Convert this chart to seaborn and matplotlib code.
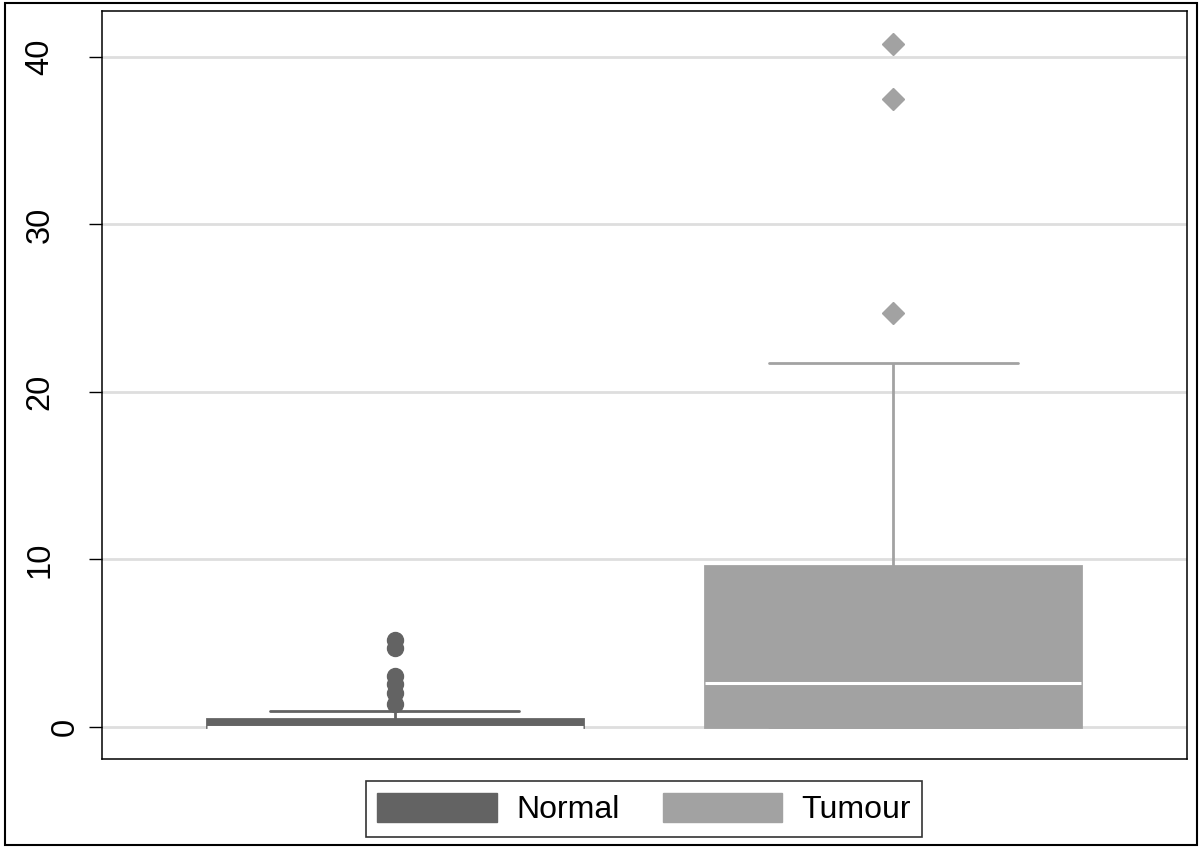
import pandas as pd
import seaborn as sns
import matplotlib.pyplot as plt
from matplotlib.patches import Patch, Rectangle

groups = ["Normal", "Tumour"]
colors = ["#636363", "#a2a2a2"]
markers = ["o", "D"]

normal_values = [
    0, 0, 0, 0, 0, 0, 0, 0, 0, 0, 0, 0, 0, 0, 0, 0, 0, 0, 0, 0, 0,
    0.05, 0.08, 0.12, 0.16, 0.2, 0.26, 0.32, 0.38, 0.44, 0.5,
    0.55, 0.68, 0.82, 0.96,
    1.35, 2.0, 2.55, 3.05, 4.7, 5.2,
]
tumour_values = [
    0, 0, 0, 0, 0, 0, 0, 0, 0, 0, 0,
    0.2, 0.4, 0.7, 1.0, 1.3, 1.6, 1.9, 2.2, 2.4, 2.6,
    3.2, 3.9, 4.6, 5.4, 6.2, 7.0, 7.8, 8.5, 9.1, 9.6,
    11.0, 12.5, 14.0, 15.5, 17.2, 19.5, 21.7,
    24.7, 37.5, 40.8,
]
y_ticks = [0, 10, 20, 30, 40]

df = pd.DataFrame({
    "group": ["Normal"] * len(normal_values) + ["Tumour"] * len(tumour_values),
    "value": normal_values + tumour_values,
})

sns.set_style("white")
plt.rcParams["font.family"] = ["Liberation Sans", "DejaVu Sans"]
plt.rcParams["text.color"] = "black"

fig = plt.figure(figsize=(12, 8.52), dpi=100)
ax = fig.add_axes([0.085, 0.1092, 0.9042, 0.878])

for name, color, marker in zip(groups, colors, markers):
    sns.boxplot(
        data=df[df["group"] == name], x="group", y="value", order=groups,
        color=color, saturation=1, width=0.755, linecolor=color, linewidth=2,
        capwidths=0.5,
        medianprops=dict(color="white", linewidth=2.2, zorder=5),
        flierprops=dict(marker=marker, markerfacecolor=color,
                        markeredgecolor=color, markersize=11.5 if marker == "o" else 11),
        ax=ax,
    )

ax.set_xlim(-0.588, 1.590)
ax.set_ylim(-1.91, 42.75)
ax.set_xticks([])
ax.set_yticks(y_ticks)
ax.yaxis.grid(True, color="#dedede", linewidth=2)
ax.set_axisbelow(True)
ax.set_xlabel("")
ax.set_ylabel("")
ax.tick_params(axis="y", length=9.4, width=1, color="black", labelleft=False, left=True)
for s in ax.spines.values():
    s.set_visible(True)
    s.set_color("black")
    s.set_linewidth(1.1)

# rotated y labels, placed like the original
for t in y_ticks:
    xpos = -0.0341 if t == 0 else -0.0571
    ax.text(xpos, t, str(t), transform=ax.get_yaxis_transform(), rotation=90,
            ha="center", va="center", fontsize=23.5, color="black")

handles = [Patch(facecolor=c, edgecolor=c) for c in colors]
leg = fig.legend(handles=handles, labels=groups, loc="center",
                 bbox_to_anchor=(0.5367, 0.0505), ncol=2, frameon=True,
                 fancybox=False, edgecolor="black", handlelength=3.75,
                 handleheight=1.05, handletextpad=0.6, columnspacing=1.35,
                 borderpad=0.35, fontsize=23, labelcolor="black")
leg.get_frame().set_linewidth(1.2)

fig.add_artist(Rectangle((0.0042, 0.0082), 0.9933, 0.9883, transform=fig.transFigure,
                         fill=False, edgecolor="black", linewidth=1.5))

fig.savefig("out.png", dpi=100)
